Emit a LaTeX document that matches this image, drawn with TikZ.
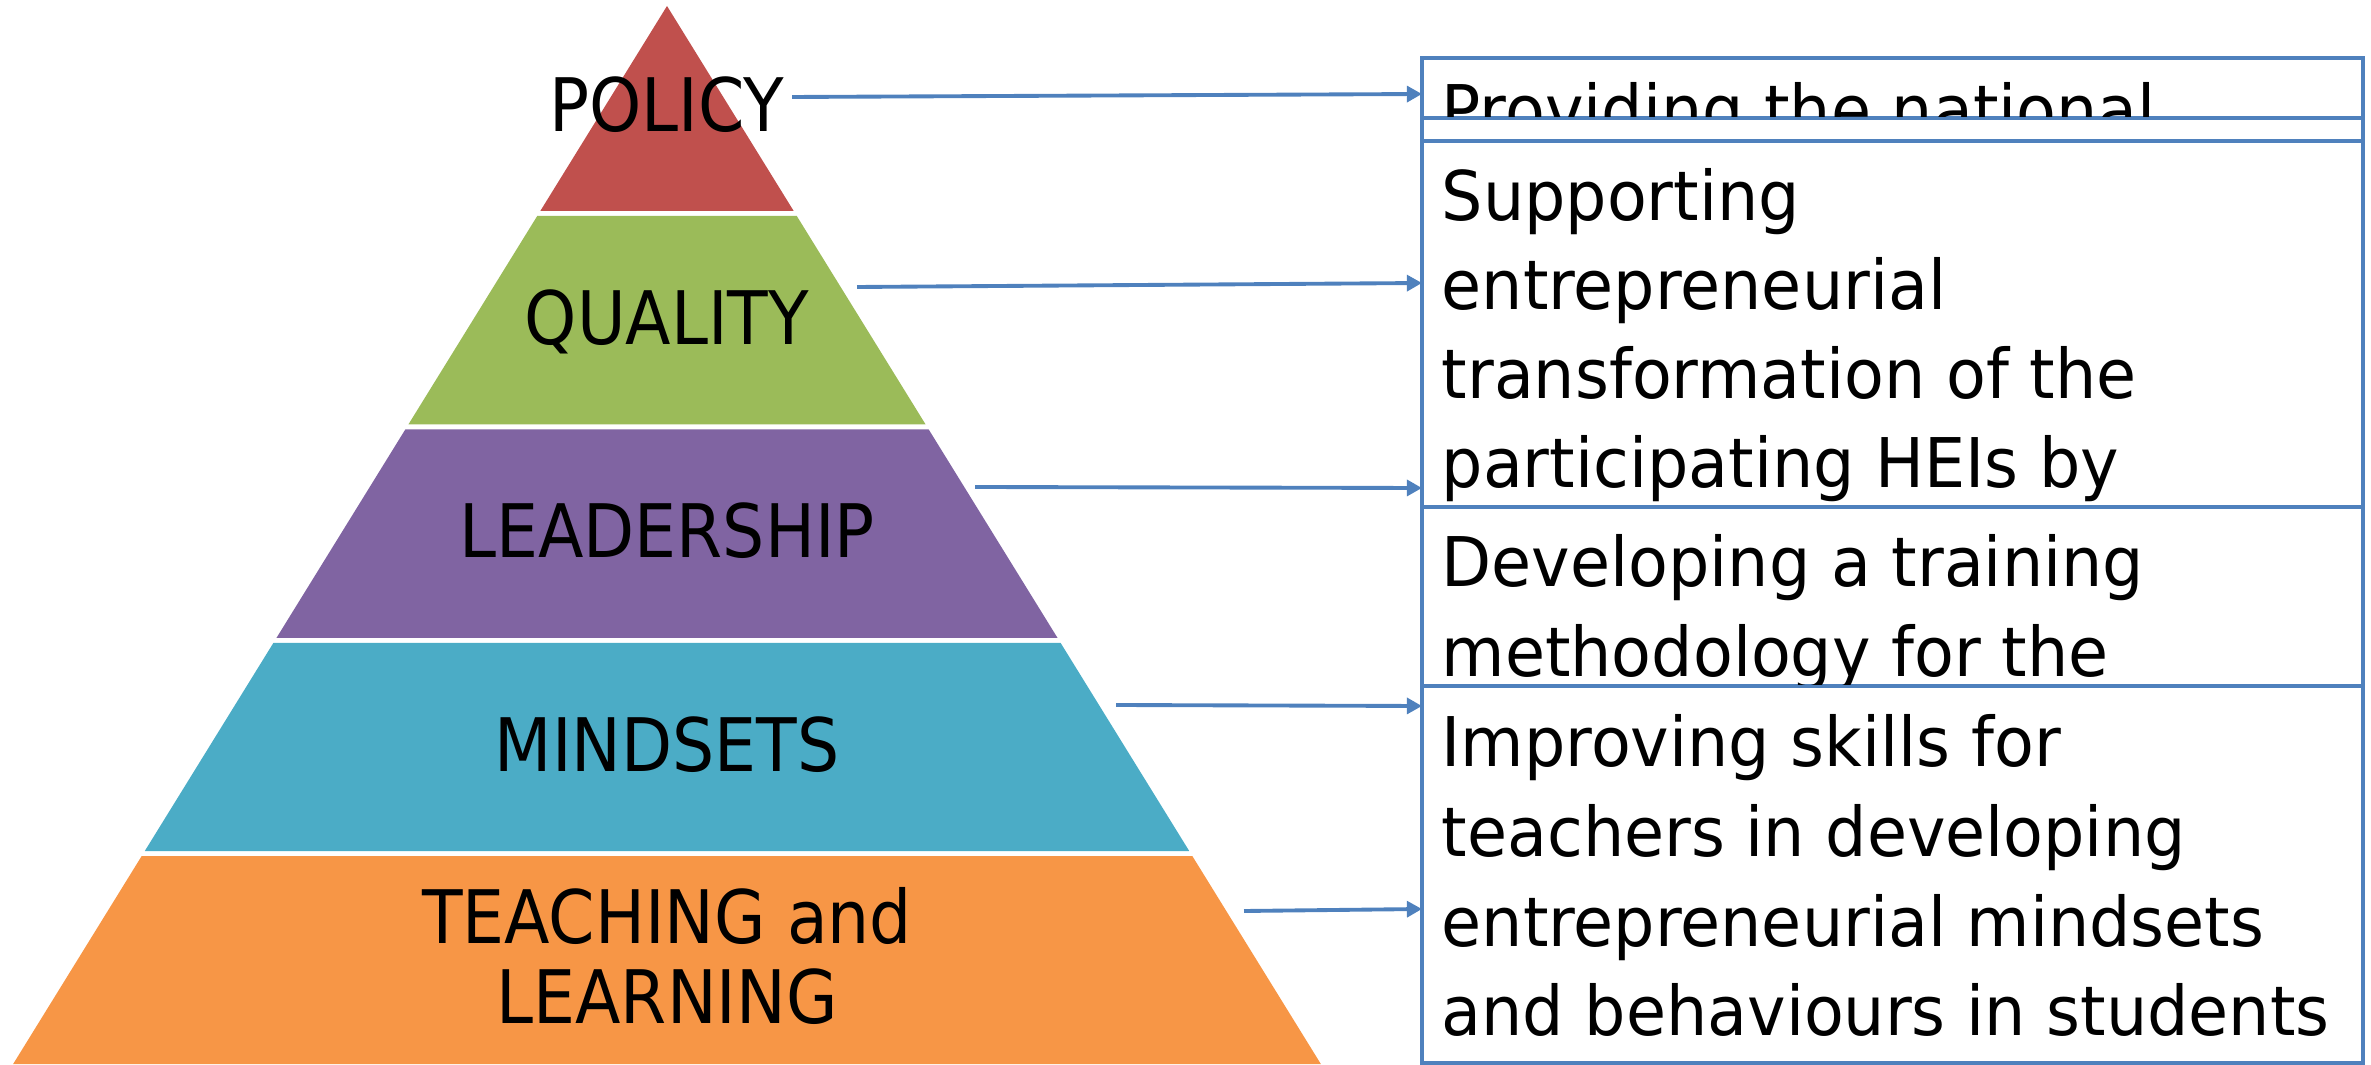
\documentclass[tikz,border=0pt]{standalone}
\usepackage{fontspec}
\setmainfont{DejaVu Sans}
\newfontfamily\boxfont{DejaVu Sans}[FakeStretch=0.95]
\newfontfamily\tierfont{DejaVu Sans}[FakeStretch=0.9]
\usetikzlibrary{arrows.meta}
\definecolor{policy}{HTML}{C0504D}
\definecolor{quality}{HTML}{9BBB59}
\definecolor{leadership}{HTML}{8064A2}
\definecolor{mindsets}{HTML}{4BACC6}
\definecolor{teaching}{HTML}{F79646}
\definecolor{frame}{HTML}{4F81BD}
\tikzset{
  tier/.style={font=\tierfont\fontsize{21}{22.8}\selectfont, inner sep=0pt, anchor=base},
  boxline/.style={font=\boxfont\fontsize{19.5}{25.3}\selectfont, inner sep=0pt, anchor=base west},
  panel/.style={draw=frame, line width=1.1pt, inner sep=0pt, outer sep=0pt, anchor=north west, minimum width=94.1mm},
  link/.style={draw=frame, line width=1.1pt, -{Triangle[length=4.3pt,width=4.5pt]}}
}
\begin{document}
\begin{tikzpicture}[x=0.1mm,y=-0.1mm]
  \useasboundingbox (0,0) rectangle (2371,1065);

  % pyramid tiers, apex at (667,6)
  \foreach \col/\ya/\yb in {policy/6/211, quality/216/424.5, leadership/429.5/638,
                            mindsets/643/851, teaching/856/1064}
    \fill[\col] ({667-0.618*(\ya-6)},\ya) -- ({667+0.618*(\ya-6)},\ya)
             -- ({667+0.618*(\yb-6)},\yb) -- ({667-0.618*(\yb-6)},\yb) -- cycle;

  \node[tier] (l-policy) at (667,132) {POLICY};
  \node[tier] (l-quality) at (667,345) {QUALITY};
  \node[tier] (l-leadership) at (667,558) {LEADERSHIP};
  \node[tier] (l-mindsets) at (667,771) {MINDSETS};
  \node[tier] (l-teaching) at (667,943) {TEACHING and};
  \node[tier] (l-learning) at (667,1023) {LEARNING};

  % right-hand boxes
  \node[panel, minimum height=6mm] (b1) at (1422,58) {};
  \node[panel, minimum height=2.3mm] (b1b) at (1422,118) {};
  \node[panel, minimum height=36.6mm] (b2) at (1422,141) {};
  \node[panel, minimum height=17.9mm] (b3) at (1422,507) {};
  \node[panel, minimum height=37.7mm] (b4) at (1422,686) {};

  \begin{scope}
    \clip ([yshift=-0.55pt]b1.north west) rectangle ([yshift=0.55pt]b1.south east);
    \node[boxline] (t1-0) at (1441,135) {Providing the national};
  \end{scope}
  \begin{scope}
    \clip ([yshift=-0.55pt]b2.north west) rectangle ([yshift=0.55pt]b2.south east);
    \foreach \t [count=\i from 0] in {Supporting, entrepreneurial, transformation of the, participating HEIs by}
      \node[boxline] (t2-\i) at (1441,221+89*\i) {\t};
  \end{scope}
  \begin{scope}
    \clip ([yshift=-0.55pt]b3.north west) rectangle ([yshift=0.55pt]b3.south east);
    \foreach \t [count=\i from 0] in {Developing a training, methodology for the}
      \node[boxline] (t3-\i) at (1441,587+90*\i) {\t};
  \end{scope}
  \foreach \t [count=\i from 0] in {Improving skills for, teachers in developing,
                                    entrepreneurial mindsets, and behaviours in students}
    \node[boxline] (t4-\i) at (1441,767+89.5*\i) {\t};

  % arrows from the tiers to the boxes
  \foreach \i/\xs/\ys/\ye in {1/792/97/94, 2/857/287/283, 3/975/487/488,
                              4/1116/705/706, 5/1244/911/909} {
    \coordinate (s\i) at (\xs,\ys);
    \coordinate (e\i) at (1422,\ye);
    \draw[link] (s\i) -- (e\i);
  }
\end{tikzpicture}
\end{document}
